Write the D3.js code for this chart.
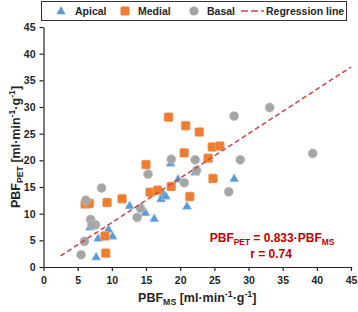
<!DOCTYPE html>
<html>
<head>
<meta charset="utf-8">
<script src="https://cdn.jsdelivr.net/npm/d3@7"></script>
<style>
  body { margin: 0; background: #fff; }
  svg { display: block; font-family: "Liberation Sans", Arial, sans-serif; font-weight: bold; }
</style>
</head>
<body>
<svg width="358" height="312"></svg>
<script>
// PBF values [ml/min/g]
var apicalMS  = [18.6, 22.2, 19.7, 27.9, 21.0, 17.5, 17.2, 17.9, 12.6, 14.9, 16.2, 6.8, 9.5, 10.1, 8.0, 7.7];
var apicalPET = [19.4, 17.7, 16.4, 16.5, 11.3, 13.7, 12.7, 13.2, 11.4, 10.1, 9.0, 7.4, 7.0, 5.7, 5.3, 1.8];

var medialMS  = [18.3, 20.8, 22.8, 20.6, 15.0, 24.7, 25.8, 24.1, 24.8, 18.7, 21.4, 15.6, 16.7, 11.5, 9.3, 6.1, 6.7, 9.0, 9.1];
var medialPET = [28.1, 26.5, 25.3, 21.4, 19.2, 22.5, 22.7, 20.4, 16.6, 15.1, 13.2, 14.0, 14.4, 12.8, 12.1, 11.8, 11.9, 5.8, 2.6];

var basalMS  = [33.1, 27.9, 39.4, 28.8, 18.7, 22.2, 22.4, 15.3, 20.6, 27.1, 8.5, 6.2, 14.2, 13.7, 6.9, 7.6, 7.1, 6.0, 5.5];
var basalPET = [29.9, 28.3, 21.3, 20.1, 20.2, 20.1, 18.1, 17.4, 15.8, 14.1, 14.8, 12.5, 11.0, 9.3, 8.9, 7.9, 7.9, 4.8, 2.3];

var axisTicks = [0, 5, 10, 15, 20, 25, 30, 35, 40, 45];
var legendLabels = ['Apical', 'Medial', 'Basal', 'Regression line'];
var regressionSlope = 0.833;
var regressionRange = [2.5, 45];
var correlation = 0.74;

var blue = '#5b9bd5', orange = '#ed7d31', gray = '#a5a5a5', red = '#c9454c', darkRed = '#c00000';

var svg = d3.select('svg');

var x = d3.scaleLinear().domain([0, 45]).range([43.5, 351]);
var y = d3.scaleLinear().domain([0, 45]).range([267, 27]);

// axes
svg.append('g')
  .attr('transform', 'translate(0,' + y(0) + ')')
  .call(d3.axisBottom(x).tickValues(axisTicks).tickSize(4).tickSizeOuter(0).tickPadding(6));
svg.append('g')
  .attr('transform', 'translate(' + x(0) + ',0)')
  .call(d3.axisLeft(y).tickValues(axisTicks).tickSize(4).tickSizeOuter(0).tickPadding(4));

svg.selectAll('.domain, .tick line').attr('stroke', '#222').attr('stroke-width', 1.2);
svg.selectAll('.tick text')
  .attr('fill', '#262626')
  .style('font-size', '10.5px')
  .style('font-weight', 'bold')
  .style('font-family', '"Liberation Sans", Arial, sans-serif');

// series, Excel style markers
var marks = svg.append('g');

marks.selectAll('path.apical')
  .data(d3.zip(apicalMS, apicalPET))
  .enter().append('path')
  .attr('class', 'apical')
  .attr('d', d3.symbol().type(d3.symbolTriangle).size(36))
  .attr('transform', function(d) { return 'translate(' + x(d[0]) + ',' + y(d[1]) + ')'; })
  .attr('fill', blue)
  .attr('stroke', '#9cc3e6')
  .attr('stroke-width', 0.6);

marks.selectAll('rect.medial')
  .data(d3.zip(medialMS, medialPET))
  .enter().append('rect')
  .attr('class', 'medial')
  .attr('x', function(d) { return x(d[0]) - 4.5; })
  .attr('y', function(d) { return y(d[1]) - 4.5; })
  .attr('width', 9)
  .attr('height', 9)
  .attr('rx', 1.5)
  .attr('fill', orange)
  .attr('stroke', '#f6b98e')
  .attr('stroke-width', 0.6);

marks.selectAll('circle.basal')
  .data(d3.zip(basalMS, basalPET))
  .enter().append('circle')
  .attr('class', 'basal')
  .attr('cx', function(d) { return x(d[0]); })
  .attr('cy', function(d) { return y(d[1]); })
  .attr('r', 4.6)
  .attr('fill', gray)
  .attr('stroke', '#c9c9c9')
  .attr('stroke-width', 0.6);

// regression line on top
svg.append('line')
  .attr('x1', x(regressionRange[0]))
  .attr('y1', y(regressionSlope * regressionRange[0]))
  .attr('x2', x(regressionRange[1]))
  .attr('y2', y(regressionSlope * regressionRange[1]))
  .attr('stroke', red)
  .attr('stroke-width', 1.5)
  .attr('stroke-dasharray', '5,3');

// text with sub/superscripts: parts = [[text, 'sub'|'sup'|null], ...]
function richText(sel, parts, size) {
  var shift = 0;
  parts.forEach(function(p) {
    var want = p[1] === 'sub' ? size * 0.22 : p[1] === 'sup' ? -size * 0.38 : 0;
    sel.append('tspan')
      .attr('dy', want - shift)
      .style('font-size', (p[1] ? size * 0.7 : size) + 'px')
      .text(p[0]);
    shift = want;
  });
  return sel;
}

var unitParts = [[' [ml\u00b7min', null], ['-1', 'sup'], ['\u00b7g', null], ['-1', 'sup'], [']', null]];

// axis titles
richText(svg.append('text')
  .attr('x', (x(0) + x(45)) / 2)
  .attr('y', 302)
  .attr('text-anchor', 'middle')
  .attr('fill', '#262626'), [['PBF', null], ['MS', 'sub']].concat(unitParts), 12.5);

richText(svg.append('text')
  .attr('transform', 'translate(20,' + ((y(0) + y(45)) / 2) + ') rotate(-90)')
  .attr('text-anchor', 'middle')
  .attr('fill', '#262626'), [['PBF', null], ['PET', 'sub']].concat(unitParts), 12.5);

// regression annotation
richText(svg.append('text')
  .attr('x', 272)
  .attr('y', 242)
  .attr('text-anchor', 'middle')
  .attr('fill', darkRed),
  [['PBF', null], ['PET', 'sub'], [' = ' + regressionSlope.toFixed(3) + '\u00b7PBF', null], ['MS', 'sub']], 12);

svg.append('text')
  .attr('x', 271)
  .attr('y', 258)
  .attr('text-anchor', 'middle')
  .attr('fill', darkRed)
  .style('font-size', '12px')
  .text('r = ' + correlation.toFixed(2));

// legend
var legend = svg.append('g');
legend.append('rect')
  .attr('x', 41.5).attr('y', 1.5)
  .attr('width', 305).attr('height', 19)
  .attr('fill', '#fff')
  .attr('stroke', '#333')
  .attr('stroke-width', 1);

var legendX = [61, 125, 194];
var textX = [75, 138, 207, 266];
legend.append('path')
  .attr('d', d3.symbol().type(d3.symbolTriangle).size(36))
  .attr('transform', 'translate(' + legendX[0] + ',11.5)')
  .attr('fill', blue);
legend.append('rect')
  .attr('x', legendX[1] - 4.5).attr('y', 6.5)
  .attr('width', 9).attr('height', 9).attr('rx', 1.5)
  .attr('fill', orange);
legend.append('circle')
  .attr('cx', legendX[2]).attr('cy', 11)
  .attr('r', 4.6)
  .attr('fill', gray);
legend.append('line')
  .attr('x1', 241).attr('x2', 264)
  .attr('y1', 11).attr('y2', 11)
  .attr('stroke', red)
  .attr('stroke-width', 1.5)
  .attr('stroke-dasharray', '7,3');

legend.selectAll('text.lbl')
  .data(legendLabels)
  .enter().append('text')
  .attr('class', 'lbl')
  .attr('x', function(d, i) { return textX[i]; })
  .attr('y', 15)
  .attr('fill', '#262626')
  .style('font-size', '10.5px')
  .text(function(d) { return d; });
</script>
</body>
</html>
